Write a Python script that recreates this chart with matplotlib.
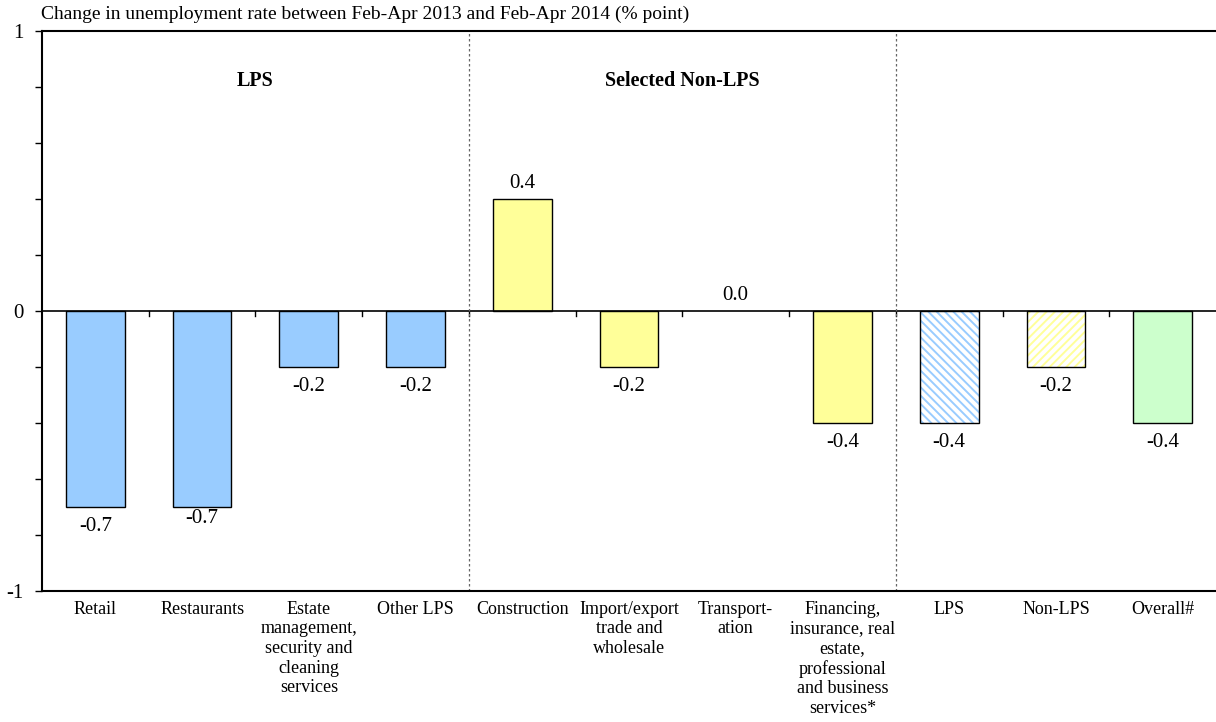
import numpy as np
import matplotlib.pyplot as plt

categories = ["Retail", "Restaurants",
              "Estate\nmanagement,\nsecurity and\ncleaning\nservices",
              "Other LPS", "Construction",
              "Import/export\ntrade and\nwholesale",
              "Transport-\nation",
              "Financing,\ninsurance, real\nestate,\nprofessional\nand business\nservices*",
              "LPS", "Non-LPS", "Overall#"]
values = [-0.7, -0.7, -0.2, -0.2, 0.4, -0.2, 0.0, -0.4, -0.4, -0.2, -0.4]
value_labels = ["-0.7", "-0.7", "-0.2", "-0.2", "0.4", "-0.2", "0.0", "-0.4", "-0.4", "-0.2", "-0.4"]
group_titles = ["LPS", "Selected Non-LPS"]
title = "Change in unemployment rate between Feb-Apr 2013 and Feb-Apr 2014 (% point)"

blue = "#99CCFF"
yellow = "#FFFF99"
green = "#CCFFCC"
fills = [blue] * 4 + [yellow] * 4 + [None, None, green]

plt.rcParams['font.family'] = ['Liberation Serif', 'DejaVu Serif']
plt.rcParams['hatch.linewidth'] = 1.4

fig = plt.figure(figsize=(12.16, 7.22), dpi=100)
ax = fig.add_axes([42 / 1216, 1 - 591 / 722, 1 - 42 / 1216, (591 - 31) / 722])

x = np.arange(len(values))
w = 0.55
for i, v in enumerate(values):
    if v == 0:
        continue
    if i == 8:
        ax.bar(i, v, w, color="white", edgecolor=blue, hatch="\\\\\\\\", linewidth=0)
        ax.bar(i, v, w, fill=False, edgecolor="black", linewidth=1)
    elif i == 9:
        ax.bar(i, v, w, color="white", edgecolor=yellow, hatch="////", linewidth=0)
        ax.bar(i, v, w, fill=False, edgecolor="black", linewidth=1)
    else:
        ax.bar(i, v, w, color=fills[i], edgecolor="black", linewidth=1)

# value labels
for i, v in enumerate(values):
    if v < 0:
        off = -0.07 if i != 1 else -0.04  # Restaurants label sits a bit higher
        ax.text(i, v + off, value_labels[i], ha="center", va="center", fontsize=15)
    else:
        ax.text(i, v + 0.055, value_labels[i], ha="center", va="center", fontsize=15)

ax.set_xlim(-0.5, len(values) - 0.5)
ax.set_ylim(-1, 1)

# zero line with small category ticks
ax.axhline(0, color="black", linewidth=1.2, zorder=1)
for b in np.arange(0.5, len(values) - 0.5):
    ax.plot([b, b], [0, -0.018], color="black", linewidth=1, zorder=1)

# group separators
for b in [3.5, 7.5]:
    ax.axvline(b, color="#666666", linestyle=(0, (2, 2)), linewidth=0.9)

ax.text(1.5, 0.82, group_titles[0], ha="center", va="center", fontsize=14.5, fontweight="bold")
ax.text(5.5, 0.82, group_titles[1], ha="center", va="center", fontsize=14.5, fontweight="bold")

ax.set_yticks([-1, 0, 1])
ax.set_yticklabels(["-1", "0", "1"], fontsize=15)
ax.set_yticks(np.arange(-1, 1.01, 0.2), minor=True)
ax.tick_params(axis="y", which="both", direction="out", length=5, width=1, pad=8)

ax.set_xticks(x)
ax.set_xticklabels(categories, fontsize=13, linespacing=1.2, va="top")
ax.tick_params(axis="x", length=0, pad=7)

ax.spines["right"].set_visible(False)
for s in ["left", "top", "bottom"]:
    ax.spines[s].set_linewidth(1.5)

fig.text(41 / 1216, 1 - 14 / 722, title, ha="left", va="center", fontsize=14)

fig.savefig("out.png", dpi=100)
